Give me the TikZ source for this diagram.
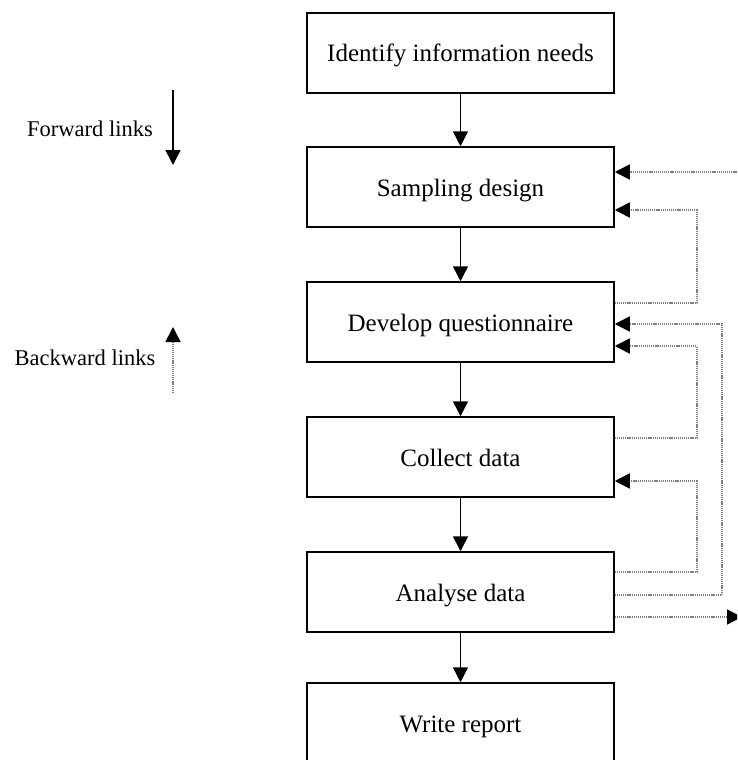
\documentclass[tikz,border=0pt]{standalone}
\usepackage{fontspec}
\setmainfont{Liberation Serif}
\usetikzlibrary{arrows.meta}
\begin{document}
\begin{tikzpicture}[x=1pt,y=-1pt,
  stage/.style={draw=black,line width=1.5pt,minimum width=307pt,minimum height=80pt,
    inner sep=0pt,text height=18pt,text depth=0pt,font=\fontsize{25}{30}\selectfont},
  legendtext/.style={font=\fontsize{22.5}{27}\selectfont,inner sep=0pt},
  fwd/.style={line width=1.5pt,-{Triangle[length=15pt,width=15pt]}},
  back/.style={draw=black!50,line width=1.6pt,dash pattern=on 1.2pt off 0.9pt,
    -{Triangle[length=15pt,width=15pt,color=black]}}]
\useasboundingbox (0,0) rectangle (737,760);
\clip (0,0) rectangle (737,760);

% process stages
\node[stage] (b1) at (460.5,53)  {Identify information needs};
\node[stage] (b2) at (460.5,187) {Sampling design};
\node[stage] (b3) at (460.5,322) {Develop questionnaire};
\node[stage] (b4) at (460.5,457) {Collect data};
\node[stage] (b5) at (460.5,592) {Analyse data};
\node[stage] (b6) at (460.5,723) {Write report};

% forward links
\draw[fwd] (b1) -- (b2);
\draw[fwd] (b2) -- (b3);
\draw[fwd] (b3) -- (b4);
\draw[fwd] (b4) -- (b5);
\draw[fwd] (b5) -- (b6);

% backward links
\coordinate (inlink) at (745,172);
\coordinate (outlink) at (742,617);
\draw[back] (inlink) -- ([yshift=15pt]b2.east);
\draw[back] ([yshift=19pt]b3.east) -- ++(82,0) |- ([yshift=-23pt]b2.east);
\draw[back] ([yshift=-3pt]b5.east) -- ++(107,0) |- ([yshift=-2pt]b3.east);
\draw[back] ([yshift=19pt]b4.east) -- ++(82,0) |- ([yshift=-24pt]b3.east);
\draw[back] ([yshift=20pt]b5.east) -- ++(82,0) |- ([yshift=-24pt]b4.east);
\draw[back] ([yshift=-25pt]b5.east) -- (outlink);

% legend
\node[legendtext] (fl) at (90,129) {Forward links};
\coordinate (fa) at (173,90);
\coordinate (fb) at (173,165);
\draw[fwd] (fa) -- (fb);
\node[legendtext] (bl) at (85,358) {Backward links};
\coordinate (ba) at (173,393);
\coordinate (bb) at (173,327);
\draw[back] (ba) -- (bb);
\end{tikzpicture}
\end{document}
